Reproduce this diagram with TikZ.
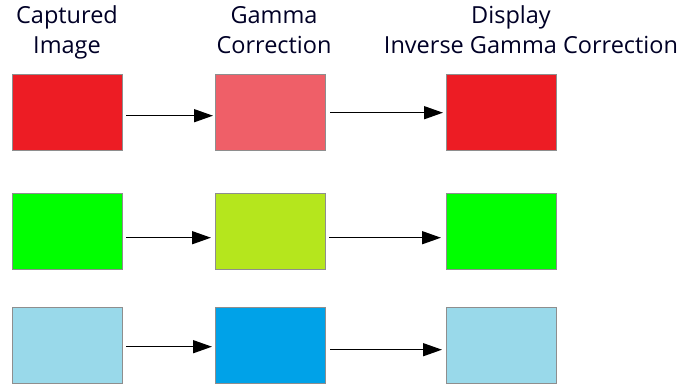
\documentclass[tikz,border=0pt]{standalone}
\usepackage{fontspec}
\setmainfont{Open Sans}
\usetikzlibrary{arrows.meta}
\definecolor{cRed}{HTML}{ED1C24}
\definecolor{cRedG}{HTML}{EF5F68}
\definecolor{cGreen}{HTML}{00FF00}
\definecolor{cGreenG}{HTML}{B5E61D}
\definecolor{cBlue}{HTML}{99D9EA}
\definecolor{cBlueG}{HTML}{00A2E8}
\definecolor{edge}{HTML}{8E8E8E}
\tikzset{
  swatch/.style={draw=edge, line width=1.4pt, minimum width=110pt, minimum height=76pt, inner sep=0pt, anchor=north west},
  title/.style={font=\fontsize{23.5}{30}\selectfont, text=black!85!blue, align=center, inner sep=0pt},
  arr/.style={line width=1.5pt, -{Triangle[length=19pt,width=13pt]}}
}
\begin{document}
\begin{tikzpicture}[x=1pt,y=-1pt]
\useasboundingbox (0,0) rectangle (687,388);
% column headings (anchored on the baseline of the second line)
\node[title, anchor=base] (h1) at (67,53) {Captured\\Image};
\node[title, anchor=base] (h2) at (274,53) {Gamma\\Correction};
\node[title, anchor=base] (h3) at (531,53) {\hspace*{-40pt}Display\\Inverse Gamma Correction};
% swatches: captured, encoded, displayed
\node[swatch, fill=cRed]    (a1) at (12,74) {};
\node[swatch, fill=cRedG]   (b1) at (215,74) {};
\node[swatch, fill=cRed]    (c1) at (446,74) {};
\node[swatch, fill=cGreen]  (a2) at (12,193) {};
\node[swatch, fill=cGreenG] (b2) at (215,193) {};
\node[swatch, fill=cGreen]  (c2) at (446,193) {};
\node[swatch, fill=cBlue]   (a3) at (12,307) {};
\node[swatch, fill=cBlueG]  (b3) at (215,307) {};
\node[swatch, fill=cBlue]   (c3) at (446,307) {};
% transfer arrows
\draw[arr] ([shift={(3,3)}]a1.east) -- ([shift={(-2,3)}]b1.west);
\draw[arr] ([shift={(4,0)}]b1.east) -- ([shift={(-3,0)}]c1.west);
\draw[arr] ([shift={(3,6)}]a2.east) -- ([shift={(-4,6)}]b2.west);
\draw[arr] ([shift={(3,6)}]b2.east) -- ([shift={(-5,6)}]c2.west);
\draw[arr] ([shift={(3,1)}]a3.east) -- ([shift={(-3,1)}]b3.west);
\draw[arr] ([shift={(4,4)}]b3.east) -- ([shift={(-4,4)}]c3.west);
\end{tikzpicture}
\end{document}
